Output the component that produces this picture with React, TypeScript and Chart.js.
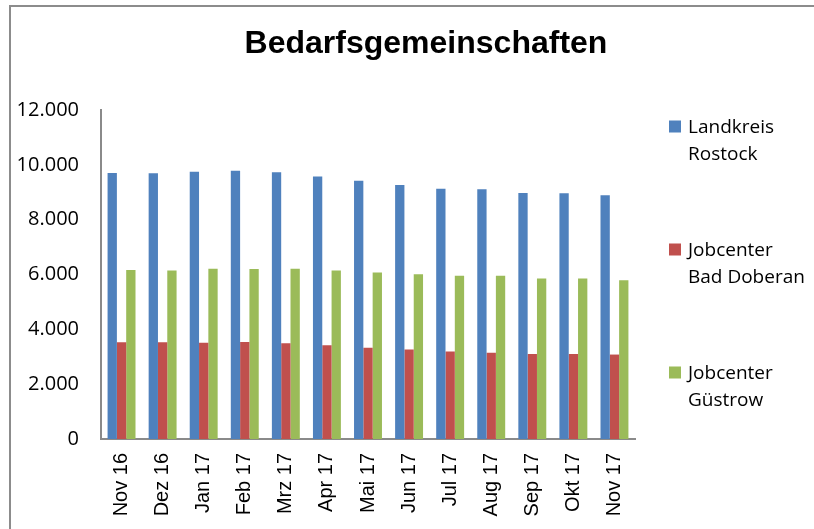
import React, { useEffect, useRef } from "react";
import { Chart, registerables } from "chart.js";

Chart.register(...registerables);

const categories = ["Nov 16", "Dez 16", "Jan 17", "Feb 17", "Mrz 17", "Apr 17", "Mai 17", "Jun 17", "Jul 17", "Aug 17", "Sep 17", "Okt 17", "Nov 17"];
const landkreisRostock = [9700, 9690, 9750, 9780, 9730, 9570, 9420, 9260, 9130, 9110, 8970, 8960, 8890];
const jobcenterBadDoberan = [3530, 3530, 3510, 3540, 3490, 3420, 3330, 3260, 3190, 3150, 3100, 3100, 3080];
const jobcenterGuestrow = [6160, 6150, 6210, 6200, 6210, 6150, 6070, 6010, 5950, 5950, 5850, 5850, 5790];
const seriesLabels = [["Landkreis", "Rostock"], ["Jobcenter", "Bad Doberan"], ["Jobcenter", "Güstrow"]];
const seriesColors = ["#4F81BD", "#C0504D", "#9BBB59"];
const titleText = "Bedarfsgemeinschaften";
const yTicks = [0, 2000, 4000, 6000, 8000, 10000, 12000];

function fmt(v: number): string {
  const s = Math.round(v).toString();
  return s.replace(/\B(?=(\d{3})+(?!\d))/g, ".");
}

const decorPlugin = {
  id: "decor",
  beforeDraw(chart: any) {
    const ctx = chart.ctx;
    ctx.save();
    ctx.strokeStyle = "#8c8c8c";
    ctx.lineWidth = 2;
    ctx.strokeRect(10, 6, chart.width + 20, chart.height + 20);
    ctx.restore();
  },
  afterDraw(chart: any) {
    const ctx = chart.ctx;
    const area = chart.chartArea;
    ctx.save();
    // title
    ctx.fillStyle = "#000";
    ctx.font = "bold 32px 'Liberation Sans', Arial, sans-serif";
    ctx.textAlign = "center";
    ctx.textBaseline = "alphabetic";
    ctx.fillText(titleText, 426, 53);
    // legend
    ctx.textAlign = "left";
    ctx.font = "19px 'Open Sans', sans-serif";
    const lx = area.right + 34;
    chart.data.datasets.forEach((ds: any, i: number) => {
      const base = area.top + 23 + i * 123;
      ctx.fillStyle = ds.backgroundColor;
      ctx.fillRect(lx, base - 12.5, 12, 12);
      ctx.fillStyle = "#000";
      const lines: string[] = ds.legendLines;
      lines.forEach((ln, j) => ctx.fillText(ln, lx + 19, base + j * 27));
    });
    ctx.restore();
  },
};

export default function App() {
  const ref = useRef<HTMLCanvasElement | null>(null);
  useEffect(() => {
    document.body.style.margin = "0";
    const canvas = ref.current!;
    const data = [landkreisRostock, jobcenterBadDoberan, jobcenterGuestrow];
    const chart = new Chart(canvas, {
      type: "bar",
      data: {
        labels: categories,
        datasets: data.map((d, i) => ({
          label: seriesLabels[i].join(" "),
          legendLines: seriesLabels[i],
          data: d,
          backgroundColor: seriesColors[i],
          borderWidth: 0,
          categoryPercentage: 0.68,
          barPercentage: 1,
        })) as any,
      },
      options: {
        responsive: false,
        animation: false,
        devicePixelRatio: 1,
        layout: { padding: { left: 10, top: 110, right: 179, bottom: 0 } },
        plugins: {
          legend: { display: false },
          title: { display: false },
          tooltip: { enabled: false },
        },
        scales: {
          x: {
            grid: { display: false, drawTicks: false },
            border: { display: true, color: "#8a8a8a", width: 2 },
            ticks: {
              color: "#000",
              font: { family: "'Liberation Sans', Arial, sans-serif", size: 20 },
              minRotation: 90,
              maxRotation: 90,
              padding: 14,
              autoSkip: false,
            },
            afterFit: (s: any) => {
              s.height = 90;
            },
          },
          y: {
            min: 0,
            max: 12000,
            grid: { display: false, drawTicks: false },
            border: { display: true, color: "#8a8a8a", width: 2 },
            afterBuildTicks: (s: any) => {
              s.ticks = yTicks.map((v) => ({ value: v }));
            },
            ticks: {
              color: "#000",
              font: { family: "'Open Sans', sans-serif", size: 20 },
              padding: 22,
              callback: (v: any) => fmt(Number(v)),
            },
            afterFit: (s: any) => {
              s.width = 91;
            },
          },
        },
      },
      plugins: [decorPlugin],
    });
    return () => chart.destroy();
  }, []);
  return (
    <div style={{ width: 814, height: 529, background: "#fff" }}>
      <canvas ref={ref} width={814} height={529} style={{ display: "block" }} />
    </div>
  );
}
